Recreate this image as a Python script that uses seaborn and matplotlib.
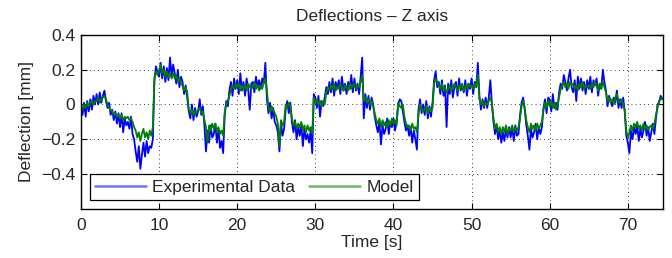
import numpy as np
import pandas as pd
import matplotlib
matplotlib.use("Agg")
import matplotlib.pyplot as plt
from matplotlib.lines import Line2D
import seaborn as sns

time_step = 0.2
model = [
    -0.01, -0.03, 0.0, -0.02, 0.01,
    -0.01, 0.01, 0.02, 0.0, 0.02,
    0.02, 0.04, 0.01, 0.03, 0.04,
    0.05, 0.03, 0.0, -0.02, -0.03,
    -0.04, -0.06, -0.05, -0.07, -0.06,
    -0.08, -0.06, -0.09, -0.07, -0.08,
    -0.07, -0.09, -0.08, -0.10, -0.13,
    -0.15, -0.19, -0.16, -0.21, -0.17,
    -0.14, -0.19, -0.16, -0.20, -0.15,
    -0.18, -0.13, 0.15, 0.19, 0.17,
    0.20, 0.23, 0.18, 0.20, 0.16,
    0.19, 0.16, 0.18, 0.15, 0.18,
    0.15, 0.17, 0.13, 0.15, 0.12,
    0.11, 0.08, 0.10, 0.07, -0.03,
    -0.05, -0.03, -0.06, -0.04, -0.05,
    -0.03, -0.02, -0.05, -0.04, -0.09,
    -0.13, -0.22, -0.12, -0.15, -0.11,
    -0.14, -0.11, -0.16, -0.13, -0.17,
    -0.15, -0.18, -0.04, 0.0, 0.02,
    0.05, 0.09, 0.11, 0.09, 0.12,
    0.10, 0.12, 0.08, 0.11, 0.09,
    0.11, 0.08, 0.12, 0.10, 0.09,
    0.10, 0.13, 0.09, 0.11, 0.08,
    0.11, 0.09, 0.13, 0.15, 0.08,
    -0.02, -0.04, -0.01, -0.03, -0.05,
    -0.07, -0.11, -0.24, -0.09, -0.12,
    -0.10, 0.0, -0.02, 0.01, -0.01,
    -0.08, -0.12, -0.10, -0.14, -0.11,
    -0.13, -0.10, -0.15, -0.12, -0.16,
    -0.12, -0.15, -0.13, -0.17, 0.04,
    0.01, 0.03, 0.0, 0.02, -0.01,
    0.02, 0.0, 0.07, 0.10, 0.08,
    0.11, 0.09, 0.12, 0.08, 0.10,
    0.09, 0.12, 0.10, 0.08, 0.11,
    0.10, 0.08, 0.12, 0.09, 0.11,
    0.12, 0.09, 0.11, 0.10, 0.13,
    0.17, 0.02, 0.04, 0.01, 0.03,
    0.0, 0.02, -0.01, -0.05, -0.09,
    -0.11, -0.08, -0.13, -0.09, -0.12,
    -0.10, -0.13, -0.09, -0.12, -0.08,
    -0.11, -0.09, -0.12, 0.01, -0.01,
    -0.02, 0.0, -0.07, -0.11, -0.13,
    -0.12, -0.15, -0.11, -0.14, -0.13,
    -0.16, -0.06, 0.0, -0.02, -0.04,
    -0.03, -0.01, -0.05, -0.02, -0.04,
    -0.02, 0.12, 0.15, 0.13, 0.11,
    0.09, 0.12, 0.08, 0.10, 0.07,
    0.09, 0.11, 0.08, 0.10, 0.12,
    0.10, 0.08, 0.11, 0.09, 0.12,
    0.08, 0.11, 0.09, 0.12, 0.10,
    0.11, 0.09, 0.12, 0.10, 0.17,
    0.03, 0.0, 0.02, -0.01, 0.01,
    0.0, 0.02, 0.04, 0.01, -0.08,
    -0.14, -0.11, -0.16, -0.13, -0.17,
    -0.13, -0.16, -0.12, -0.17, -0.14,
    -0.15, -0.12, -0.16, -0.13, -0.15,
    -0.13, -0.08, -0.01, 0.02, -0.02,
    -0.09, -0.13, -0.16, -0.11, -0.14,
    -0.12, -0.15, -0.11, -0.14, -0.12,
    -0.10, -0.03, 0.01, -0.02, 0.02,
    -0.01, 0.02, -0.02, 0.01, -0.03,
    0.0, 0.04, 0.09, 0.11, 0.13,
    0.10, 0.12, 0.09, 0.13, 0.11,
    0.12, 0.09, 0.11, 0.08, 0.12,
    0.10, 0.13, 0.09, 0.11, 0.10,
    0.11, 0.09, 0.12, 0.10, 0.13,
    0.11, 0.08, 0.12, 0.09, 0.13,
    0.10, 0.07, 0.02, 0.04, 0.01,
    0.03, 0.0, 0.04, 0.06, 0.02,
    0.01, 0.03, 0.0, -0.03, -0.15,
    -0.19, -0.16, -0.12, -0.15, -0.11,
    -0.13, -0.10, -0.14, -0.12, -0.15,
    -0.11, -0.14, -0.12, -0.15, -0.13,
    -0.12, -0.14, -0.11, -0.06, -0.02,
    0.02, 0.03, 0.04,
]
experimental = [
    -0.02, -0.06, 0.01, -0.07, 0.02,
    -0.04, 0.03, -0.03, 0.05, 0.0,
    0.06, 0.0, 0.07, 0.01, 0.05,
    0.08, 0.02, -0.02, 0.01, -0.06,
    -0.03, -0.09, -0.04, -0.11, -0.05,
    -0.13, -0.05, -0.16, -0.08, -0.12,
    -0.10, -0.14, -0.07, -0.17, -0.20,
    -0.27, -0.33, -0.24, -0.37, -0.29,
    -0.22, -0.30, -0.21, -0.28, -0.24,
    -0.25, -0.20, 0.14, 0.22, 0.18,
    0.16, 0.24, 0.15, 0.22, 0.13,
    0.21, 0.14, 0.27, 0.16, 0.23,
    0.18, 0.12, 0.20, 0.10, 0.16,
    0.13, 0.06, 0.11, 0.04, -0.04,
    -0.08, 0.0, -0.09, -0.02, -0.07,
    -0.04, 0.03, -0.06, -0.01, -0.12,
    -0.27, -0.15, -0.22, -0.12, -0.19,
    -0.17, -0.11, -0.22, -0.14, -0.25,
    -0.21, -0.28, -0.06, 0.02, -0.01,
    0.08, 0.13, 0.05, 0.15, 0.09,
    0.14, 0.06, 0.18, 0.08, 0.13,
    0.05, 0.15, 0.09, -0.03, 0.12,
    0.13, 0.07, 0.16, 0.10, 0.14,
    0.09, 0.15, 0.12, 0.24, 0.03,
    -0.05, 0.01, -0.08, -0.02, -0.10,
    -0.12, -0.16, -0.27, -0.10, -0.18,
    -0.14, -0.03, 0.02, -0.05, 0.01,
    -0.10, -0.16, -0.09, -0.20, -0.13,
    -0.18, -0.11, -0.24, -0.14, -0.20,
    -0.17, -0.22, -0.15, -0.28, 0.06,
    0.04, -0.02, 0.05, -0.07, 0.02,
    -0.01, 0.04, 0.10, 0.06, 0.13,
    0.07, 0.15, 0.05, 0.13, 0.09,
    0.14, 0.06, 0.16, 0.08, 0.12,
    0.06, 0.13, 0.09, 0.17, 0.07,
    0.15, 0.08, 0.12, 0.06, 0.16,
    0.27, -0.08, 0.06, -0.02, 0.05,
    -0.03, 0.04, 0.0, -0.07, -0.12,
    -0.16, -0.10, -0.23, -0.12, -0.17,
    -0.14, -0.08, -0.17, -0.10, -0.13,
    -0.08, -0.15, -0.10, 0.0, 0.03,
    0.02, -0.04, -0.10, -0.15, -0.12,
    -0.18, -0.13, -0.22, -0.15, -0.20,
    -0.26, -0.03, 0.03, -0.05, 0.0,
    -0.06, 0.02, -0.08, -0.01, -0.07,
    0.01, 0.14, 0.19, 0.10, 0.13,
    0.06, 0.14, 0.05, 0.11, -0.13,
    0.12, 0.06, 0.14, 0.04, 0.10,
    0.13, 0.05, 0.15, 0.08, 0.11,
    0.07, 0.14, 0.05, 0.12, 0.09,
    0.15, 0.06, 0.13, 0.10, 0.24,
    0.05, -0.03, 0.03, -0.02, 0.04,
    -0.02, 0.04, 0.14, 0.0, -0.10,
    -0.17, -0.12, -0.20, -0.15, -0.22,
    -0.16, -0.21, -0.14, -0.19, -0.13,
    -0.19, -0.13, -0.21, -0.12, -0.18,
    -0.17, -0.06, 0.01, 0.04, -0.03,
    -0.12, -0.18, -0.26, -0.14, -0.19,
    -0.16, -0.11, -0.20, -0.13, -0.17,
    -0.13, -0.02, 0.03, -0.05, 0.04,
    0.03, -0.04, 0.06, -0.02, 0.01,
    -0.03, 0.07, 0.12, 0.09, 0.17,
    0.13, 0.08, 0.15, 0.20, 0.10,
    0.07, 0.14, 0.02, 0.16, 0.09,
    0.15, 0.08, 0.13, 0.06, 0.14,
    0.09, 0.16, 0.07, 0.14, 0.11,
    0.15, 0.05, 0.12, 0.09, 0.20,
    0.13, 0.08, -0.01, 0.05, 0.02,
    -0.01, 0.04, 0.01, 0.08, -0.02,
    0.03, -0.02, 0.04, -0.04, -0.18,
    -0.22, -0.28, -0.15, -0.20, -0.13,
    -0.17, -0.12, -0.21, -0.14, -0.19,
    -0.15, -0.10, -0.18, -0.13, -0.21,
    -0.16, -0.11, -0.17, -0.08, 0.0,
    0.01, 0.05, 0.03,
]
series_names = ["Experimental Data", "Model"]
x_ticks = [0, 10, 20, 30, 40, 50, 60, 70]
y_ticks = [-0.4, -0.2, 0, 0.2, 0.4]
y_tick_labels = ["\u22120.4", "\u22120.2", "0", "0.2", "0.4"]

time = np.arange(len(experimental)) * time_step
df = pd.concat([
    pd.DataFrame({"Time": time, "Deflection": experimental, "Series": series_names[0]}),
    pd.DataFrame({"Time": time[:len(model)], "Deflection": model, "Series": series_names[1]}),
], ignore_index=True)

sns.set_style("white")
plt.rcParams["font.family"] = ["Liberation Sans", "DejaVu Sans"]
plt.rcParams["xtick.direction"] = "in"
plt.rcParams["ytick.direction"] = "in"

FS = 12.5
fig = plt.figure(figsize=(6.72, 2.58), dpi=100)
ax = fig.add_axes([0.1205, 0.191, 0.8661, 0.6733])

colors = {"Experimental Data": "#0000ff", "Model": "#008000"}
sns.lineplot(data=df, x="Time", y="Deflection", hue="Series", palette=colors,
             linewidth=1.3, ax=ax, legend=False, sort=False, estimator=None)

ax.set_xlim(0, 74.5)
ax.set_ylim(-0.6, 0.4)
ax.set_xticks(x_ticks)
ax.set_yticks(y_ticks)
ax.set_yticklabels(y_tick_labels)
ax.tick_params(labelsize=FS, length=4, width=0.8, color="black",
               top=True, right=True, bottom=True, left=True)
ax.tick_params(axis="x", pad=7)
ax.tick_params(axis="y", pad=4)
ax.grid(True, color="black", linestyle=(0, (1, 4)), linewidth=0.6)
for s in ax.spines.values():
    s.set_color("black")
    s.set_linewidth(1.0)
ax.set_xlabel("Time [s]", fontsize=FS, labelpad=1)
ax.set_ylabel("Deflection [mm]", fontsize=FS, labelpad=5)
ax.set_title("Deflections \u2013 Z axis", fontsize=FS, pad=10)

handles = [Line2D([], [], color="#6f6fff", lw=1.8),
           Line2D([], [], color="#6fb56f", lw=1.8)]
leg = ax.legend(handles, series_names, loc="lower left", bbox_to_anchor=(0.0155, 0.05),
                ncol=2, frameon=True, fancybox=False, edgecolor="black", framealpha=1,
                fontsize=FS, handlelength=2.9, borderaxespad=0, columnspacing=0.8,
                handletextpad=0.4, borderpad=0.3)
leg.get_frame().set_linewidth(0.9)

fig.savefig("out.png", dpi=100)
